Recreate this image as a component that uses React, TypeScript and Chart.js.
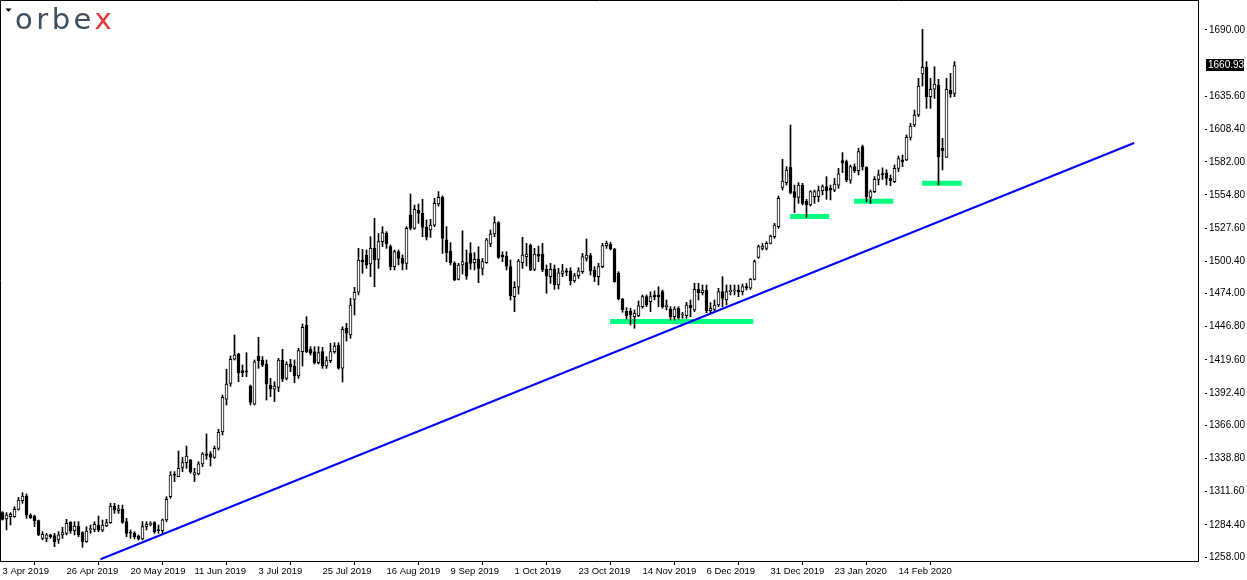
import React, { useEffect, useRef } from 'react';
import { Chart, registerables } from 'chart.js';

Chart.register(...registerables);

// ---- Daily XAUUSD candles (index 0 = 3 Apr 2019) ----
const opens = [
  1294.4, 1289.2, 1291.1, 1291.1, 1297.1, 1304.2, 1308.0, 1292.4, 1291.6, 1287.8,
  1273.3, 1273.3, 1276.1, 1275.5, 1272.0, 1276.1, 1277.4, 1286.4, 1279.6, 1283.4,
  1278.0, 1270.6, 1280.5, 1280.7, 1284.2, 1280.1, 1283.4, 1286.2, 1299.8, 1296.0,
  1297.2, 1287.0, 1278.0, 1277.4, 1275.2, 1272.8, 1282.9, 1284.8, 1286.2, 1280.2,
  1279.6, 1288.4, 1307.5, 1325.5, 1323.9, 1331.5, 1335.4, 1337.5, 1325.2, 1326.1,
  1334.3, 1342.5, 1342.5, 1339.7, 1347.1, 1360.8, 1387.3, 1400.4, 1420.1, 1424.4,
  1410.8, 1410.0, 1398.2, 1383.2, 1422.8, 1419.5, 1416.2, 1399.0, 1395.5, 1397.1,
  1419.5, 1404.5, 1416.2, 1414.6, 1406.4, 1426.3, 1448.2, 1428.3, 1426.3, 1417.3,
  1426.3, 1414.6, 1419.0, 1426.3, 1431.8, 1412.7, 1445.5, 1440.0, 1469.2, 1475.0,
  1501.5, 1505.6, 1498.2, 1511.0, 1502.0, 1516.5, 1523.3, 1512.4, 1496.0, 1508.3,
  1502.8, 1498.7, 1538.4, 1527.4, 1542.4, 1539.7, 1528.2, 1526.1, 1530.1, 1547.4,
  1552.8, 1517.9, 1508.8, 1498.7, 1485.6, 1497.4, 1499.3, 1506.9, 1499.3, 1502.0,
  1494.6, 1499.3, 1514.6, 1522.8, 1532.1, 1505.6, 1504.7, 1496.0, 1471.4, 1479.1,
  1499.3, 1504.2, 1513.8, 1493.8, 1506.4, 1506.4, 1493.8, 1487.8, 1493.8, 1481.0,
  1490.5, 1492.5, 1492.5, 1484.3, 1488.6, 1491.9, 1502.8, 1505.0, 1493.3, 1487.8,
  1496.0, 1513.2, 1514.3, 1510.5, 1490.5, 1469.5, 1459.7, 1459.7, 1455.0, 1455.9,
  1463.2, 1471.4, 1467.3, 1472.8, 1472.8, 1475.5, 1463.2, 1461.3, 1455.0, 1461.9,
  1456.4, 1455.9, 1464.6, 1460.5, 1477.4, 1474.7, 1476.9, 1460.0, 1461.0, 1464.6,
  1475.5, 1468.7, 1475.5, 1476.3, 1476.9, 1475.5, 1479.6, 1478.3, 1485.6, 1503.6,
  1511.0, 1511.0, 1515.1, 1520.6, 1528.8, 1561.0, 1564.9, 1577.4, 1557.5, 1552.8,
  1562.9, 1549.8, 1546.6, 1553.4, 1553.4, 1558.3, 1561.6, 1560.2, 1558.8, 1562.9,
  1582.9, 1582.1, 1567.0, 1578.0, 1574.7, 1594.4, 1577.4, 1552.8, 1557.5, 1567.6,
  1572.0, 1572.8, 1568.4, 1565.7, 1576.6, 1583.5, 1583.5, 1602.0, 1612.1, 1620.3,
  1653.9, 1659.4, 1635.4, 1641.4, 1644.9, 1593.0, 1585.6, 1640.8, 1638.1
];
const highs = [
  1295.2, 1294.4, 1294.4, 1299.3, 1306.9, 1310.7, 1309.7, 1293.5, 1292.4, 1288.3,
  1278.8, 1277.4, 1276.6, 1277.4, 1278.8, 1282.3, 1288.9, 1287.0, 1287.0, 1287.0,
  1278.8, 1282.9, 1284.2, 1287.0, 1291.6, 1288.3, 1288.9, 1302.0, 1302.0, 1300.6,
  1300.6, 1289.7, 1280.2, 1278.8, 1276.1, 1287.0, 1287.0, 1287.0, 1287.0, 1284.2,
  1289.2, 1307.5, 1328.0, 1328.0, 1344.9, 1339.7, 1349.0, 1338.1, 1330.7, 1336.2,
  1343.6, 1358.9, 1344.4, 1349.0, 1362.7, 1390.8, 1411.9, 1422.8, 1440.0, 1425.0,
  1415.4, 1425.5, 1399.0, 1419.5, 1438.1, 1422.2, 1419.5, 1404.5, 1401.7, 1420.9,
  1428.3, 1418.1, 1420.1, 1419.5, 1429.1, 1449.0, 1455.0, 1430.4, 1430.4, 1430.4,
  1429.9, 1422.2, 1433.2, 1433.7, 1433.7, 1446.8, 1449.6, 1470.0, 1479.0, 1511.0,
  1510.2, 1509.7, 1520.6, 1535.6, 1523.3, 1528.8, 1524.7, 1513.8, 1509.7, 1509.7,
  1505.6, 1528.8, 1555.6, 1546.5, 1547.4, 1551.2, 1534.3, 1534.8, 1552.0, 1557.5,
  1554.0, 1528.8, 1515.7, 1500.1, 1498.7, 1525.5, 1509.7, 1515.7, 1507.5, 1512.4,
  1502.8, 1519.2, 1526.1, 1537.0, 1532.9, 1508.3, 1508.3, 1501.5, 1483.7, 1502.0,
  1520.1, 1515.1, 1514.6, 1511.0, 1512.9, 1515.1, 1497.4, 1498.7, 1497.4, 1494.6,
  1497.9, 1494.6, 1495.2, 1490.5, 1495.2, 1506.9, 1518.7, 1506.9, 1496.0, 1498.7,
  1515.1, 1517.0, 1515.9, 1511.0, 1491.9, 1470.0, 1462.4, 1461.9, 1460.5, 1467.9,
  1472.8, 1472.8, 1475.5, 1476.1, 1479.6, 1476.9, 1468.7, 1463.2, 1463.2, 1463.2,
  1458.6, 1466.8, 1468.7, 1482.4, 1482.4, 1481.0, 1481.0, 1466.5, 1468.7, 1478.3,
  1487.8, 1481.0, 1481.0, 1481.0, 1481.0, 1481.8, 1482.4, 1486.4, 1501.5, 1513.8,
  1515.1, 1516.5, 1521.9, 1531.5, 1553.9, 1584.0, 1578.0, 1612.1, 1562.9, 1564.9,
  1564.3, 1551.2, 1558.3, 1558.8, 1562.1, 1563.0, 1569.8, 1562.9, 1568.4, 1576.6,
  1589.5, 1583.4, 1579.3, 1580.2, 1593.0, 1595.7, 1578.0, 1558.8, 1569.8, 1575.2,
  1577.0, 1575.5, 1571.2, 1579.4, 1586.7, 1587.5, 1603.9, 1613.5, 1624.4, 1650.4,
  1690.5, 1664.1, 1650.4, 1659.9, 1649.6, 1601.2, 1650.4, 1654.5, 1664.1
];
const lows = [
  1288.3, 1280.2, 1284.2, 1290.5, 1296.5, 1302.0, 1289.7, 1289.5, 1282.9, 1275.5,
  1272.0, 1270.6, 1273.3, 1266.5, 1269.2, 1273.3, 1276.1, 1277.4, 1276.1, 1274.7,
  1266.0, 1270.0, 1277.4, 1278.8, 1278.8, 1278.8, 1282.9, 1285.6, 1293.8, 1293.8,
  1285.6, 1274.7, 1273.3, 1272.8, 1272.0, 1272.0, 1280.2, 1283.5, 1277.4, 1277.4,
  1277.4, 1287.0, 1306.1, 1319.8, 1323.9, 1328.0, 1330.7, 1326.6, 1319.8, 1325.2,
  1332.1, 1338.1, 1332.6, 1338.9, 1345.7, 1358.0, 1382.6, 1398.0, 1419.5, 1401.7,
  1405.8, 1405.8, 1382.6, 1382.6, 1412.7, 1414.0, 1386.7, 1389.5, 1385.4, 1393.6,
  1401.7, 1403.1, 1409.9, 1400.9, 1404.5, 1414.6, 1425.5, 1423.6, 1416.2, 1416.2,
  1412.7, 1412.7, 1417.3, 1425.0, 1411.9, 1401.5, 1435.0, 1437.3, 1456.4, 1472.8,
  1490.5, 1494.6, 1487.8, 1479.6, 1494.6, 1512.4, 1511.0, 1493.3, 1493.3, 1497.4,
  1493.3, 1493.8, 1526.1, 1526.6, 1531.5, 1520.6, 1517.9, 1520.1, 1528.8, 1545.7,
  1506.9, 1500.1, 1497.4, 1484.5, 1485.1, 1490.0, 1485.6, 1493.8, 1493.3, 1482.9,
  1489.2, 1498.7, 1512.4, 1520.6, 1502.8, 1500.1, 1493.3, 1468.7, 1459.1, 1473.6,
  1494.6, 1496.5, 1492.7, 1492.7, 1500.1, 1491.9, 1474.2, 1482.3, 1477.4, 1477.7,
  1487.8, 1488.6, 1481.0, 1483.2, 1486.4, 1490.5, 1500.6, 1489.2, 1483.7, 1481.0,
  1495.2, 1511.0, 1509.7, 1483.2, 1468.7, 1458.6, 1453.1, 1448.2, 1445.5, 1455.0,
  1461.9, 1463.2, 1459.1, 1468.7, 1463.2, 1461.9, 1460.5, 1452.3, 1452.3, 1453.1,
  1453.7, 1453.7, 1455.0, 1459.1, 1468.7, 1472.8, 1458.3, 1458.3, 1460.0, 1463.2,
  1463.2, 1464.6, 1472.8, 1472.8, 1471.4, 1472.8, 1476.9, 1477.4, 1485.1, 1502.8,
  1509.7, 1509.7, 1514.6, 1519.2, 1527.4, 1558.8, 1562.9, 1555.6, 1540.3, 1547.9,
  1546.6, 1536.4, 1545.7, 1547.9, 1549.3, 1554.8, 1551.2, 1550.7, 1557.5, 1560.2,
  1573.1, 1565.7, 1564.3, 1573.1, 1571.2, 1575.2, 1549.3, 1547.9, 1556.7, 1563.0,
  1567.5, 1563.0, 1562.4, 1564.9, 1573.9, 1578.0, 1582.9, 1599.8, 1610.8, 1619.0,
  1644.1, 1625.8, 1625.8, 1634.0, 1563.0, 1575.3, 1585.6, 1634.8, 1635.4
];
const closes = [
  1288.9, 1292.4, 1293.0, 1297.1, 1304.7, 1308.0, 1292.4, 1290.3, 1287.8, 1276.1,
  1276.6, 1276.1, 1274.7, 1270.6, 1276.1, 1278.0, 1285.6, 1279.3, 1283.4, 1276.1,
  1270.6, 1279.3, 1280.9, 1284.8, 1280.1, 1284.2, 1286.2, 1299.8, 1296.5, 1297.6,
  1286.3, 1277.4, 1277.5, 1274.7, 1272.8, 1282.9, 1284.8, 1285.0, 1278.8, 1279.6,
  1288.4, 1305.3, 1325.2, 1325.0, 1330.7, 1335.4, 1340.8, 1328.0, 1327.2, 1334.3,
  1342.5, 1341.2, 1339.7, 1347.1, 1360.2, 1388.9, 1399.7, 1420.1, 1423.6, 1409.1,
  1409.1, 1409.8, 1384.8, 1418.1, 1418.9, 1415.4, 1399.8, 1395.5, 1398.2, 1419.5,
  1403.7, 1416.2, 1414.0, 1406.4, 1427.2, 1446.3, 1426.3, 1425.0, 1417.3, 1425.5,
  1414.6, 1419.0, 1426.3, 1431.0, 1412.7, 1444.6, 1441.4, 1464.6, 1474.9, 1501.5,
  1500.1, 1497.4, 1511.0, 1501.5, 1516.5, 1523.9, 1514.6, 1496.0, 1508.3, 1502.8,
  1498.7, 1527.4, 1527.4, 1543.0, 1539.7, 1528.2, 1520.6, 1530.1, 1547.9, 1552.8,
  1519.2, 1507.5, 1499.3, 1485.1, 1497.4, 1500.1, 1488.3, 1498.7, 1502.0, 1494.6,
  1500.1, 1517.9, 1522.8, 1532.1, 1503.6, 1504.2, 1496.5, 1472.0, 1479.1, 1500.6,
  1505.6, 1506.4, 1493.3, 1506.4, 1504.7, 1493.3, 1488.3, 1493.8, 1481.0, 1491.0,
  1492.5, 1491.4, 1484.3, 1488.6, 1492.5, 1504.2, 1505.6, 1492.5, 1487.8, 1496.0,
  1513.2, 1515.1, 1510.5, 1483.7, 1469.5, 1460.5, 1455.9, 1456.4, 1457.8, 1464.0,
  1471.4, 1464.6, 1471.4, 1471.4, 1471.4, 1463.2, 1464.6, 1455.0, 1461.3, 1454.2,
  1457.0, 1464.6, 1462.3, 1477.4, 1474.7, 1476.9, 1460.0, 1461.9, 1464.6, 1475.5,
  1470.0, 1475.5, 1476.9, 1476.6, 1475.5, 1479.6, 1478.3, 1485.6, 1500.1, 1512.4,
  1512.9, 1515.1, 1521.1, 1530.1, 1552.0, 1566.2, 1575.2, 1556.7, 1552.8, 1562.9,
  1547.9, 1546.6, 1557.5, 1557.5, 1558.3, 1561.6, 1558.3, 1558.8, 1563.8, 1572.0,
  1581.3, 1567.0, 1578.0, 1574.7, 1590.3, 1578.0, 1553.4, 1557.5, 1567.6, 1571.2,
  1571.5, 1568.4, 1566.5, 1576.6, 1584.6, 1582.1, 1602.0, 1611.3, 1620.3, 1644.1,
  1659.4, 1635.4, 1641.4, 1645.7, 1586.2, 1590.8, 1641.4, 1637.5, 1660.93
];

const dateLabels = [
  '3 Apr 2019', '26 Apr 2019', '20 May 2019', '11 Jun 2019', '3 Jul 2019',
  '25 Jul 2019', '16 Aug 2019', '9 Sep 2019', '1 Oct 2019', '23 Oct 2019',
  '14 Nov 2019', '6 Dec 2019', '31 Dec 2019', '23 Jan 2020', '14 Feb 2020'
];
const dateTickIndex = [0, 16, 32, 48, 64, 80, 96, 112, 128, 144, 160, 176, 192, 208, 224];

const priceTicks = [
  1258.0, 1284.4, 1311.6, 1338.8, 1366.0, 1392.4, 1419.6, 1446.8, 1474.0,
  1500.4, 1527.6, 1554.8, 1582.0, 1608.4, 1635.6, 1690.0
];
const lastPrice = 1660.93;

// trend line (bar index, price)
const trendStart = { x: 24.5, y: 1256.2 };
const trendEnd = { x: 282.9, y: 1597.4 };

// horizontal support levels: from index, to index, price
const supportFrom = [151.9, 196.9, 212.9, 229.9];
const supportTo = [187.7, 206.7, 222.7, 239.8];
const supportPrice = [1451.1, 1537.1, 1549.6, 1564.3];

const FONT = '"Liberation Sans", Arial, sans-serif';

export default function App() {
  const ref = useRef<HTMLCanvasElement>(null);

  useEffect(() => {
    document.body.style.margin = '0';
    const canvas = ref.current;
    if (!canvas) return;

    const wickData = opens.map((_, i) => ({ x: i, y: [lows[i], highs[i]] }));
    const bodyData = opens.map((o, i) => ({
      x: i,
      y: [Math.min(o, closes[i]), Math.max(o, closes[i])]
    }));
    const bodyColors = opens.map((o, i) => (closes[i] >= o ? '#ffffff' : '#000000'));

    const supportSets = supportPrice.map((p, k) => ({
      type: 'line' as const,
      data: [
        { x: supportFrom[k], y: p },
        { x: supportTo[k], y: p }
      ],
      borderColor: '#00FF7F',
      borderWidth: 5,
      borderCapStyle: 'butt' as const,
      pointRadius: 0,
      fill: false,
      order: 4
    }));

    const framePlugin = {
      id: 'mtFrame',
      afterDraw(chart: any) {
        const { ctx, chartArea } = chart;
        const yScale = chart.scales.y;
        ctx.save();
        ctx.strokeStyle = '#000';
        ctx.lineWidth = 1;
        ctx.beginPath();
        ctx.moveTo(0.5, chartArea.bottom);
        ctx.lineTo(0.5, 0.5);
        ctx.lineTo(chartArea.right, 0.5);
        ctx.stroke();
        // one-click triangle
        ctx.fillStyle = '#000';
        ctx.beginPath();
        ctx.moveTo(5.5, 8.5);
        ctx.lineTo(11.5, 8.5);
        ctx.lineTo(8.5, 12);
        ctx.closePath();
        ctx.fill();
        // last price label
        const py = yScale.getPixelForValue(lastPrice);
        ctx.fillStyle = '#000';
        ctx.fillRect(chartArea.right + 8, Math.round(py) - 6, 38, 12);
        ctx.fillStyle = '#fff';
        ctx.font = '10px ' + FONT;
        ctx.textBaseline = 'middle';
        ctx.textAlign = 'left';
        ctx.fillText(lastPrice.toFixed(2), chartArea.right + 10, Math.round(py) + 0.5);
        ctx.restore();
      }
    };

    const chart = new Chart(canvas, {
      type: 'bar',
      data: {
        datasets: [
          {
            type: 'line',
            data: [trendStart, trendEnd],
            borderColor: '#0000FF',
            borderWidth: 2,
            pointRadius: 0,
            fill: false,
            order: 3
          } as any,
          ...supportSets,
          {
            type: 'bar',
            data: wickData as any,
            backgroundColor: '#000',
            borderWidth: 0,
            grouped: false,
            barPercentage: 1,
            categoryPercentage: 1,
            maxBarThickness: 1,
            order: 2
          } as any,
          {
            type: 'bar',
            data: bodyData as any,
            backgroundColor: bodyColors,
            borderColor: '#000',
            borderWidth: 1,
            borderSkipped: false,
            minBarLength: 1,
            grouped: false,
            barPercentage: 1,
            categoryPercentage: 1,
            maxBarThickness: 3,
            order: 1
          } as any
        ]
      },
      options: {
        animation: false,
        responsive: false,
        maintainAspectRatio: false,
        events: [],
        layout: { padding: 0 },
        plugins: {
          legend: { display: false },
          tooltip: { enabled: false }
        },
        scales: {
          x: {
            type: 'linear',
            min: -0.625,
            max: 298.875,
            offset: false,
            grid: {
              display: true,
              drawOnChartArea: false,
              drawTicks: true,
              tickLength: 4,
              color: '#000'
            },
            border: { display: true, color: '#000', width: 1 },
            afterBuildTicks: (scale: any) => {
              scale.ticks = dateTickIndex.map((v) => ({ value: v }));
            },
            afterFit: (scale: any) => {
              scale.height = 19;
              scale.paddingLeft = 0;
              scale.paddingRight = 0;
            },
            ticks: {
              autoSkip: false,
              maxRotation: 0,
              minRotation: 0,
              align: 'start',
              padding: 1,
              color: '#000',
              font: { family: FONT, size: 9.5 },
              callback: (v: any) => {
                const k = dateTickIndex.indexOf(Number(v));
                return k >= 0 ? dateLabels[k] : '';
              }
            }
          },
          y: {
            type: 'linear',
            position: 'right',
            min: 1254.74,
            max: 1714.59,
            grid: {
              display: true,
              drawOnChartArea: false,
              drawTicks: true,
              tickLength: 9,
              tickBorderDash: [0, 6, 3, 50],
              color: '#000'
            },
            border: { display: true, color: '#000', width: 1 },
            afterBuildTicks: (scale: any) => {
              scale.ticks = priceTicks.map((v) => ({ value: v }));
            },
            afterFit: (scale: any) => {
              scale.width = 49;
              scale.paddingTop = 0;
              scale.paddingBottom = 0;
            },
            ticks: {
              padding: 2,
              color: '#000',
              font: { family: FONT, size: 10 },
              callback: (v: any) => Number(v).toFixed(2)
            }
          }
        }
      } as any,
      plugins: [framePlugin]
    });

    return () => chart.destroy();
  }, []);

  return (
    <div style={{ position: 'relative', width: 1247, height: 580, background: '#fff', overflow: 'hidden' }}>
      <canvas ref={ref} width={1247} height={580} style={{ display: 'block' }} />
      <div
        style={{
          position: 'absolute',
          left: 15,
          top: 5,
          fontFamily: '"DejaVu Sans", sans-serif',
          fontSize: 29,
          lineHeight: '29px',
          letterSpacing: '3.5px',
          color: '#3e4f5d',
          whiteSpace: 'nowrap'
        }}
      >
        orbe<span style={{ color: '#e8363c' }}>x</span>
      </div>
    </div>
  );
}
